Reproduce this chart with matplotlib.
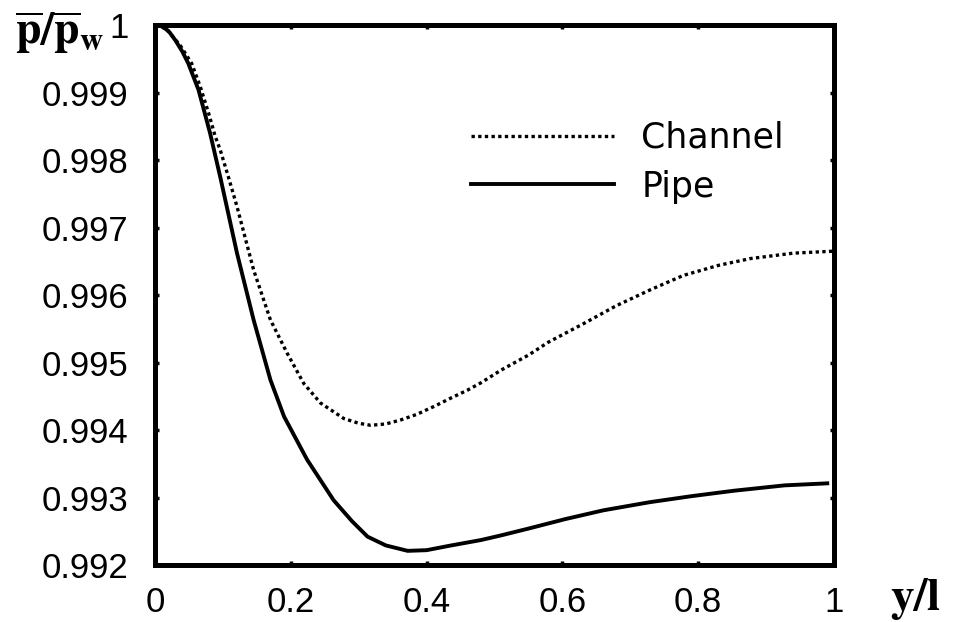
import matplotlib
matplotlib.use("Agg")
import matplotlib.pyplot as plt

# ===== data =====
x_channel = [0.0, 0.01, 0.02, 0.037, 0.054, 0.0665, 0.079, 0.0886, 0.096, 0.108,
             0.1207, 0.1452, 0.170, 0.1945, 0.219, 0.2437, 0.278, 0.30, 0.3176,
             0.34, 0.362, 0.385, 0.411, 0.435, 0.46, 0.48, 0.51, 0.55, 0.579,
             0.63, 0.679, 0.73, 0.778, 0.83, 0.877, 0.94, 1.0]
p_channel = [1.0, 0.99998, 0.99990, 0.99970, 0.99943, 0.99909, 0.99869, 0.99835,
             0.99815, 0.99775, 0.99731, 0.99637, 0.99563, 0.99514, 0.99469,
             0.99440, 0.99417, 0.99410, 0.99407, 0.99409, 0.99415, 0.99423,
             0.99435, 0.99447, 0.99459, 0.99470, 0.99489, 0.99511, 0.99530,
             0.99557, 0.99584, 0.99608, 0.99629, 0.99644, 0.99654, 0.99662, 0.99665]

x_pipe = [0.0, 0.01, 0.02, 0.0295, 0.04, 0.049, 0.064, 0.081, 0.096, 0.1207, 0.1452,
          0.170, 0.19, 0.224, 0.263, 0.29, 0.313, 0.34, 0.372, 0.40, 0.436, 0.48,
          0.51, 0.55, 0.604, 0.66, 0.728, 0.79, 0.852, 0.927, 0.99]
p_pipe = [1.0, 0.99998, 0.99991, 0.99978, 0.99961, 0.99943, 0.99904, 0.99840,
          0.99775, 0.99662, 0.99563, 0.99474, 0.99420, 0.99356, 0.99296, 0.99265,
          0.99242, 0.99229, 0.99221, 0.99222, 0.99229, 0.99237, 0.99244, 0.99254,
          0.99268, 0.99281, 0.99293, 0.99302, 0.99310, 0.99318, 0.99321]

x_ticks = [0, 0.2, 0.4, 0.6, 0.8, 1.0]
x_ticklabels = ["0", "0.2", "0.4", "0.6", "0.8", "1"]
y_ticks = [0.992, 0.993, 0.994, 0.995, 0.996, 0.997, 0.998, 0.999, 1.0]
y_ticklabels = ["0.992", "0.993", "0.994", "0.995", "0.996", "0.997", "0.998", "0.999", "1"]

# ===== figure =====
plt.rcParams["font.family"] = "Liberation Sans"
plt.rcParams["mathtext.fontset"] = "stix"

fig = plt.figure(figsize=(9.6, 6.22), dpi=100)
ax = fig.add_axes([0.1615, 0.0916, 0.7073, 0.8682])

ax.plot(x_channel, p_channel, color="black", lw=2.4, linestyle=(0, (1, 1)),
        dash_capstyle="butt", solid_joinstyle="round", label="Channel")
ax.plot(x_pipe, p_pipe, color="black", lw=2.8, solid_joinstyle="round", label="Pipe")

ax.set_xlim(0, 1)
ax.set_ylim(0.992, 1.0)
ax.set_xticks(x_ticks)
ax.set_xticklabels(x_ticklabels)
ax.set_yticks(y_ticks)
ax.set_yticklabels(y_ticklabels)

for s in ax.spines.values():
    s.set_linewidth(3.6)
ax.tick_params(direction="in", length=3, width=2.5, top=True, right=True,
               labelsize=25)
ax.tick_params(axis="y", pad=19)
ax.tick_params(axis="x", pad=15)

ax.set_ylabel(r"$\mathbf{\overline{p}/\overline{p}_w}$", rotation=0, fontsize=33,
              ha="center", va="center")
ax.yaxis.set_label_coords(-0.14, 0.985)
ax.set_xlabel(r"$\mathbf{y/l}$", fontsize=34, ha="left", va="center")
ax.xaxis.set_label_coords(1.083, -0.063)

ax.legend(loc="upper left", bbox_to_anchor=(0.44, 0.855), frameon=False,
          prop={"family": "DejaVu Sans", "size": 25},
          handlelength=4.1, handletextpad=0.8, labelspacing=0.43, borderpad=0)

fig.savefig("out.png", dpi=100, facecolor="white")
